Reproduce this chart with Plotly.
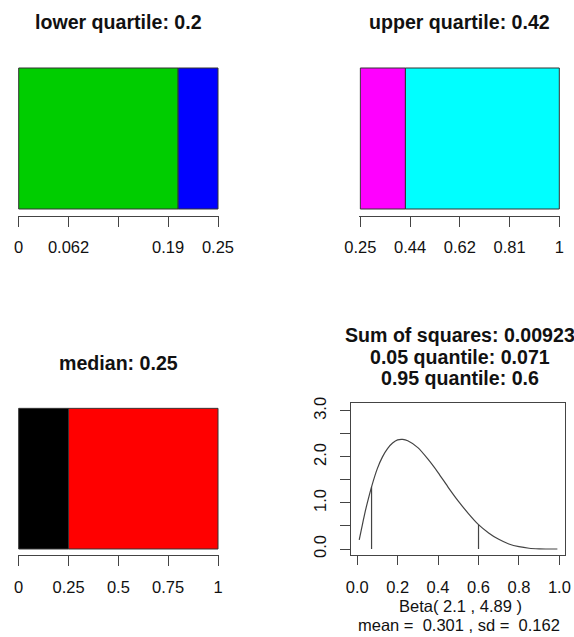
import plotly.graph_objects as go

# ---- data -------------------------------------------------------------
lower_limits = [0.0, 0.25]
lower_quartile = 0.2
lower_colors = ["#00CD00", "#0000FF"]
lower_ticks = [0, 0.0625, 0.125, 0.1875, 0.25]
lower_ticktext = ["0", "0.062", "", "0.19", "0.25"]

upper_limits = [0.25, 1.0]
upper_quartile = 0.42
upper_colors = ["#FF00FF", "#00FFFF"]
upper_ticks = [0.25, 0.4375, 0.625, 0.8125, 1.0]
upper_ticktext = ["0.25", "0.44", "0.62", "0.81", "1"]

median_limits = [0.0, 1.0]
median_value = 0.25
median_colors = ["#000000", "#FF0000"]
median_ticks = [0, 0.25, 0.5, 0.75, 1.0]
median_ticktext = ["0", "0.25", "0.5", "0.75", "1"]

# fitted Beta(2.1, 4.89) density
beta_x = [0.01, 0.02, 0.03, 0.04, 0.05, 0.071, 0.1, 0.125, 0.15, 0.175, 0.2,
          0.225, 0.25, 0.3, 0.35, 0.4, 0.45, 0.5, 0.55, 0.6, 0.65, 0.7, 0.75,
          0.8, 0.85, 0.9, 0.95, 0.99]
beta_y = [0.20, 0.41, 0.62, 0.82, 1.00, 1.35, 1.75, 2.00, 2.18, 2.30, 2.37,
          2.38, 2.35, 2.20, 1.95, 1.66, 1.34, 1.04, 0.77, 0.53, 0.35, 0.21,
          0.11, 0.05, 0.017, 0.004, 0.0003, 0.0]
quantile_x = [0.071, 0.6]
quantile_density = [1.35, 0.53]

beta_xticks = [0, 0.2, 0.4, 0.6, 0.8, 1.0]
beta_xticktext = ["0.0", "0.2", "0.4", "0.6", "0.8", "1.0"]
beta_yticks = [0, 0.5, 1.0, 1.5, 2.0, 2.5, 3.0]
beta_yticktext = ["0.0", "", "1.0", "", "2.0", "", "3.0"]

titles = ["lower quartile: 0.2", "upper quartile: 0.42", "median: 0.25"]
fit_title = ["Sum of squares: 0.00923", "0.05 quantile: 0.071", "0.95 quantile: 0.6"]
fit_xlabel = ["Beta( 2.1 , 4.89 )", "mean = \u00a00.301 , sd = \u00a00.162"]

# ---- layout helpers --------------------------------------------------
W, H = 574, 637
FONT = "Arial, Liberation Sans, sans-serif"
TICK_SIZE = 16.5
TITLE_SIZE = 19.6
LINE_COL = "#444444"


def fx(p):
    return p / W


def fy(p):
    return 1 - p / H


fig = go.Figure()
layout = dict(
    width=W, height=H, autosize=False,
    margin=dict(l=0, r=0, t=0, b=0, pad=0),
    paper_bgcolor="white", plot_bgcolor="white",
    barmode="overlay", showlegend=False,
    font=dict(family=FONT, size=TICK_SIZE, color="#111111"),
)
annotations = []


def bar_panel(idx, limits, split, colors, ticks, ticktext,
              x0, x1, ytop, ybot, axis_y, title, title_y):
    xs = "x" if idx == 1 else f"x{idx}"
    ys = "y" if idx == 1 else f"y{idx}"
    lo, hi = limits
    starts = [lo, split]
    ends = [split, hi]
    for s, e, c in zip(starts, ends, colors):
        fig.add_trace(go.Bar(
            x=[e - s], base=[s], y=[0], orientation="h", width=1,
            marker=dict(color=c, line=dict(color="#333333", width=1)),
            xaxis=xs, yaxis=ys, hoverinfo="skip",
        ))
    unit = (hi - lo) / (x1 - x0)
    yunit = 1.0 / (ybot - ytop)
    kx = "xaxis" if idx == 1 else f"xaxis{idx}"
    ky = "yaxis" if idx == 1 else f"yaxis{idx}"
    layout[kx] = dict(
        domain=[fx(x0 - 1), fx(x1 + 1)], range=[lo - unit, hi + unit],
        anchor="free", position=fy(axis_y), automargin=False,
        showline=True, linecolor=LINE_COL, linewidth=1,
        ticks="outside", ticklen=10, tickwidth=1, tickcolor=LINE_COL,
        tickvals=ticks, ticktext=ticktext, showgrid=False, zeroline=False,
        ticklabelstandoff=7,
        tickfont=dict(family=FONT, size=TICK_SIZE, color="#111111"),
        fixedrange=True,
    )
    layout[ky] = dict(
        domain=[fy(ybot + 1), fy(ytop - 1)], automargin=False,
        range=[-0.5 - yunit, 0.5 + yunit], visible=False, fixedrange=True,
        anchor=xs,
    )
    annotations.append(dict(
        text=f"<b>{title}</b>", x=fx((x0 + x1) / 2), y=fy(title_y),
        xref="paper", yref="paper", xanchor="center", yanchor="middle",
        showarrow=False, font=dict(family=FONT, size=TITLE_SIZE, color="#111111"),
    ))


bar_panel(1, lower_limits, lower_quartile, lower_colors, lower_ticks,
          lower_ticktext, 18.7, 218, 68, 209, 215.5, titles[0], 22)
bar_panel(2, upper_limits, upper_quartile, upper_colors, upper_ticks,
          upper_ticktext, 360.3, 559.3, 68, 209, 215.5, titles[1], 22)
bar_panel(3, median_limits, median_value, median_colors, median_ticks,
          median_ticktext, 18.7, 218, 408.3, 549, 555.3, titles[2], 363.3)

# ---- fitted density panel -------------------------------------------
fig.add_trace(go.Scatter(
    x=beta_x, y=beta_y, mode="lines",
    line=dict(color="#444444", width=1.2, shape="spline", smoothing=0.6),
    xaxis="x4", yaxis="y4", hoverinfo="skip",
))
for qx, qd in zip(quantile_x, quantile_density):
    fig.add_trace(go.Scatter(
        x=[qx, qx], y=[0, qd], mode="lines",
        line=dict(color="#444444", width=1.2),
        xaxis="x4", yaxis="y4", hoverinfo="skip",
    ))

layout["xaxis4"] = dict(
    domain=[fx(351.3), fx(565.3)], range=[-0.0292, 1.0292], anchor="y4",
    automargin=False,
    showline=True, mirror=True, linecolor=LINE_COL, linewidth=1,
    ticks="outside", ticklen=9, tickcolor=LINE_COL,
    tickvals=beta_xticks, ticktext=beta_xticktext,
    showgrid=False, zeroline=False, ticklabelstandoff=8,
    tickfont=dict(family=FONT, size=TICK_SIZE, color="#111111"),
    fixedrange=True,
)
layout["yaxis4"] = dict(
    domain=[fy(555), fy(403.3)], range=[-0.13, 3.163], anchor="x4",
    automargin=False,
    showline=True, mirror=True, linecolor=LINE_COL, linewidth=1,
    ticks="outside", ticklen=10, tickcolor=LINE_COL,
    tickvals=beta_yticks, ticktext=beta_yticktext, tickangle=-90,
    showgrid=False, zeroline=False, ticklabelstandoff=8,
    tickfont=dict(family=FONT, size=TICK_SIZE, color="#111111"),
    fixedrange=True,
)

for line, yc in zip(fit_title, [335, 356.7, 378.3]):
    annotations.append(dict(
        text=f"<b>{line}</b>", x=fx(459.7), y=fy(yc), xref="paper", yref="paper",
        xanchor="center", yanchor="middle", showarrow=False,
        font=dict(family=FONT, size=TITLE_SIZE, color="#111111"),
    ))
for line, xc, yc in zip(fit_xlabel, [460.7, 458.7], [606, 625]):
    annotations.append(dict(
        text=line, x=fx(xc), y=fy(yc), xref="paper", yref="paper",
        xanchor="center", yanchor="middle", showarrow=False,
        font=dict(family=FONT, size=TICK_SIZE, color="#111111"),
    ))

layout["annotations"] = annotations
fig.update_layout(**layout)
fig.write_html("out.html")
